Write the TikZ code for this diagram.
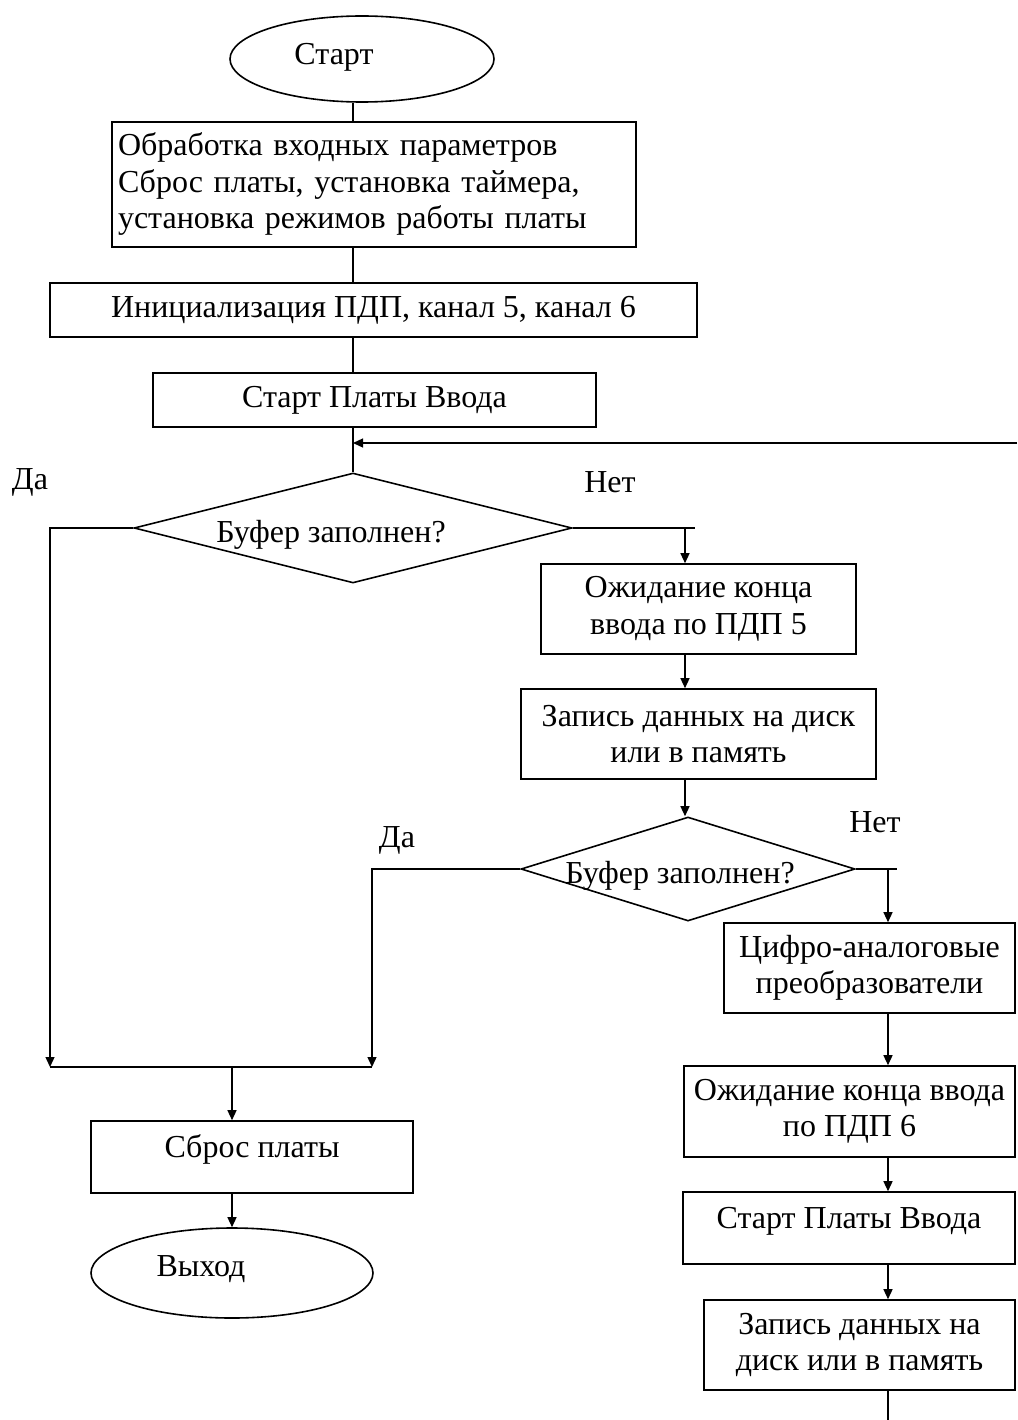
\documentclass[tikz,border=0pt]{standalone}
\usepackage{fontspec}
\setmainfont{Liberation Serif}
\usetikzlibrary{shapes.geometric,arrows.meta}
\begin{document}
\begin{tikzpicture}[x=1pt,y=-1pt,
  every node/.style={font=\fontsize{32}{36.5}\selectfont},
  box/.style={draw,line width=1.6pt,rectangle,inner sep=0pt,align=center},
  term/.style={draw,line width=1.6pt,ellipse,inner sep=0pt},
  dec/.style={draw,line width=1.6pt,diamond,inner sep=0pt},
  ln/.style={line width=1.3pt},
  arr/.style={line width=1.3pt,-{Triangle[length=10pt,width=9pt]}},
  lbl/.style={inner sep=0pt}]
\fill[white] (0,0) rectangle (1017,1420);
\useasboundingbox (0,0) rectangle (1017,1420);

% nodes
\node[term,minimum width=264pt,minimum height=86pt] (start) at (362,59) {};
\node[lbl] (starttxt) at (334,57) {Старт};
\node[box,minimum width=524pt,minimum height=125pt,text width=512pt,align=left] (b1) at (374,184.5)
  {Обработка входных параметров\\Сброс платы, установка таймера,\\установка режимов работы платы};
\node[box,minimum width=647pt,minimum height=54pt] (b2) at (373.5,310) {Инициализация ПДП, канал 5, канал 6};
\node[box,minimum width=443pt,minimum height=54pt] (b3) at (374.5,400) {Старт Платы Ввода};
\node[dec,minimum width=438pt,minimum height=110pt] (d1) at (353,528) {};
\node[lbl] (d1t) at (331,535) {Буфер заполнен?};
\node[box,minimum width=315pt,minimum height=90pt] (b4) at (698.5,609) {Ожидание конца\\ввода по ПДП 5};
\node[box,minimum width=355pt,minimum height=90pt] (b5) at (698.5,734) {Запись данных на диск\\или в память};
\node[dec,minimum width=334pt,minimum height=104pt] (d2) at (688,869) {};
\node[lbl] (d2t) at (680,876) {Буфер заполнен?};
\node[box,minimum width=291pt,minimum height=90pt] (b6) at (869.5,968) {Цифро-аналоговые\\преобразователи};
\node[box,minimum width=331pt,minimum height=91pt] (b7) at (849.5,1111.5) {Ожидание конца ввода\\по ПДП 6};
\node[box,minimum width=332pt,minimum height=72pt,text height=24pt,text depth=24pt] (b8) at (849,1228) {Старт Платы Ввода};
\node[box,minimum width=311pt,minimum height=90pt] (b9) at (859.5,1345) {Запись данных на\\диск или в память};
\node[box,minimum width=322pt,minimum height=72pt,text height=24pt,text depth=24pt] (b10) at (252,1157) {Сброс платы};
\node[term,minimum width=282pt,minimum height=90pt] (exit) at (232,1273) {};
\node[lbl] (exittxt) at (201,1269) {Выход};

% labels
\node[lbl] (yes1) at (30,482) {Да};
\node[lbl] (no1) at (610,482) {Нет};
\node[lbl] (yes2) at (397,840) {Да};
\node[lbl] (no2) at (875,822) {Нет};

% coordinates
\coordinate (m) at (353,0);
\coordinate (r1) at (685,0);
\coordinate (r2) at (888,0);
\coordinate (fb) at (1017,443);
\coordinate (j1) at (50,1067);
\coordinate (j2) at (372,1067);
\coordinate (jm) at (232,1067);
\coordinate (n1) at (695,528);
\coordinate (n2) at (897,869);
\coordinate (endd) at (888,1420);

% connectors
\draw[ln] (start.south -| m) -- (b1.north -| m);
\draw[ln] (b1.south -| m) -- (b2.north -| m);
\draw[ln] (b2.south -| m) -- (b3.north -| m);
\draw[ln] (b3.south -| m) -- (d1.north);
\draw[arr] (fb) -- (fb -| m);
\draw[arr] (d1.west) -| (j1);
\draw[arr] (d2.west) -| (j2);
\draw[ln] (j1) -- (j2);
\draw[arr] (jm) -- (b10.north -| jm);
\draw[arr] (b10.south -| jm) -- (exit.north);
\draw[ln] (d1.east) -- (n1);
\draw[arr] (d1.east -| r1) -- (b4.north -| r1);
\draw[arr] (b4.south -| r1) -- (b5.north -| r1);
\draw[arr] (b5.south -| r1) -- (d2.north -| r1);
\draw[ln] (d2.east) -- (n2);
\draw[arr] (d2.east -| r2) -- (b6.north -| r2);
\draw[arr] (b6.south -| r2) -- (b7.north -| r2);
\draw[arr] (b7.south -| r2) -- (b8.north -| r2);
\draw[arr] (b8.south -| r2) -- (b9.north -| r2);
\draw[ln] (b9.south -| r2) -- (endd);
\end{tikzpicture}
\end{document}
